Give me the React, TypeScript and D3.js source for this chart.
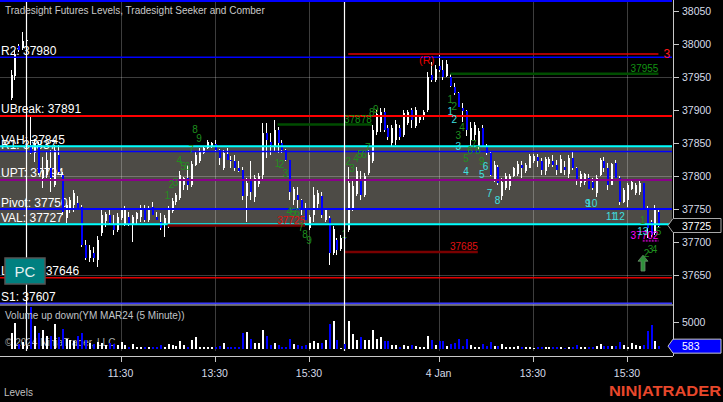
import React from 'react';
import * as d3 from 'd3';

// ---------- DATA ----------
// 5-minute bars, YM MAR24. Index 0-4: end of previous session, 5-85: 3 Jan, 86-165: 4 Jan
const barOpen = [
  37918, 37952, 37997, 37994, 38004,
  37847, 37835, 37847, 37797, 37802, 37812, 37786, 37832, 37802, 37736,
  37748, 37756, 37759, 37753, 37695, 37676, 37683, 37673, 37714, 37732,
  37741, 37726, 37718, 37736, 37728, 37738, 37726, 37735, 37738, 37750,
  37733, 37753, 37738, 37731, 37726, 37724, 37747, 37760, 37767, 37786,
  37797, 37786, 37817, 37822, 37835, 37843, 37845, 37849, 37840, 37812,
  37834, 37825, 37822, 37812, 37809, 37770, 37794, 37768, 37788, 37802,
  37865, 37852, 37845, 37870, 37850, 37840, 37824, 37764, 37771, 37764,
  37751, 37721, 37741, 37758, 37769, 37733, 37736, 37683, 37703, 37690,
  37706,
  37718, 37752, 37773, 37794, 37771, 37805, 37822, 37866, 37880, 37897,
  37872, 37850, 37855, 37873, 37862, 37880, 37900, 37876, 37885, 37889,
  37900, 37953, 37945, 37967, 37961, 37952, 37950, 37935, 37926, 37903,
  37898, 37855, 37862, 37845, 37872, 37845, 37835, 37795, 37814, 37770,
  37782, 37785, 37800, 37803, 37817, 37808, 37812, 37822, 37829, 37822,
  37808, 37818, 37822, 37817, 37805, 37814, 37803, 37827, 37812, 37789,
  37791, 37797, 37791, 37774, 37802, 37822, 37812, 37786, 37820, 37797,
  37761, 37764, 37781, 37775, 37776, 37789, 37752, 37730, 37714, 37745,
];
const barHigh = [
  37961, 37991, 38000, 38018, 38009,
  37892, 37855, 37852, 37829, 37836, 37839, 37847, 37847, 37806, 37759,
  37768, 37779, 37770, 37756, 37703, 37695, 37692, 37709, 37748, 37745,
  37748, 37741, 37744, 37751, 37754, 37745, 37741, 37746, 37756, 37756,
  37754, 37761, 37746, 37744, 37741, 37754, 37766, 37774, 37807, 37799,
  37817, 37822, 37836, 37842, 37844, 37855, 37852, 37855, 37841, 37840,
  37842, 37830, 37832, 37822, 37813, 37797, 37822, 37802, 37805, 37880,
  37880, 37865, 37885, 37875, 37855, 37841, 37825, 37784, 37784, 37765,
  37759, 37741, 37784, 37779, 37776, 37751, 37740, 37724, 37706, 37711,
  37712,
  37814, 37794, 37814, 37808, 37805, 37839, 37877, 37900, 37903, 37903,
  37877, 37877, 37885, 37877, 37900, 37900, 37903, 37905, 37893, 37900,
  37958, 37973, 37968, 37983, 37976, 37976, 37955, 37941, 37928, 37911,
  37900, 37882, 37882, 37873, 37877, 37848, 37837, 37822, 37817, 37797,
  37805, 37803, 37814, 37822, 37822, 37819, 37834, 37834, 37834, 37827,
  37829, 37829, 37832, 37824, 37832, 37822, 37832, 37837, 37814, 37807,
  37805, 37803, 37797, 37802, 37827, 37829, 37820, 37820, 37824, 37800,
  37782, 37790, 37794, 37790, 37794, 37790, 37754, 37733, 37756, 37748,
];
const barLow = [
  37915, 37945, 37988, 37991, 37997,
  37833, 37821, 37802, 37782, 37797, 37776, 37783, 37802, 37741, 37729,
  37744, 37745, 37748, 37692, 37673, 37670, 37670, 37662, 37709, 37723,
  37727, 37711, 37715, 37733, 37724, 37724, 37700, 37726, 37731, 37731,
  37730, 37741, 37733, 37718, 37708, 37721, 37744, 37756, 37764, 37779,
  37779, 37783, 37815, 37820, 37833, 37841, 37842, 37838, 37817, 37809,
  37824, 37812, 37807, 37806, 37764, 37731, 37764, 37761, 37784, 37794,
  37827, 37832, 37837, 37835, 37835, 37822, 37764, 37756, 37749, 37741,
  37733, 37718, 37731, 37750, 37736, 37730, 37665, 37680, 37680, 37686,
  37698,
  37715, 37747, 37770, 37764, 37768, 37802, 37820, 37862, 37866, 37866,
  37855, 37844, 37847, 37855, 37859, 37877, 37873, 37873, 37880, 37885,
  37897, 37943, 37943, 37958, 37945, 37950, 37935, 37923, 37905, 37882,
  37860, 37844, 37855, 37840, 37844, 37832, 37800, 37791, 37786, 37764,
  37779, 37779, 37799, 37800, 37797, 37805, 37812, 37820, 37814, 37802,
  37802, 37814, 37814, 37802, 37804, 37802, 37797, 37809, 37786, 37783,
  37786, 37780, 37779, 37768, 37800, 37806, 37779, 37786, 37797, 37756,
  37759, 37753, 37779, 37771, 37771, 37750, 37706, 37708, 37711, 37722,
];
const barClose = [
  37953, 37983, 37991, 38004, 38006,
  37835, 37850, 37805, 37809, 37824, 37797, 37839, 37806, 37745, 37756,
  37764, 37774, 37751, 37695, 37676, 37688, 37676, 37703, 37741, 37742,
  37729, 37718, 37738, 37748, 37750, 37726, 37738, 37744, 37752, 37733,
  37750, 37741, 37733, 37721, 37736, 37750, 37762, 37771, 37802, 37797,
  37786, 37818, 37832, 37838, 37842, 37852, 37850, 37840, 37827, 37835,
  37824, 37822, 37812, 37808, 37769, 37790, 37776, 37797, 37800, 37865,
  37855, 37847, 37870, 37850, 37840, 37824, 37776, 37781, 37764, 37751,
  37733, 37738, 37771, 37775, 37741, 37748, 37683, 37720, 37688, 37706,
  37705,
  37790, 37785, 37808, 37771, 37800, 37832, 37870, 37894, 37897, 37870,
  37859, 37872, 37879, 37859, 37895, 37897, 37885, 37900, 37890, 37897,
  37950, 37945, 37962, 37961, 37950, 37970, 37936, 37926, 37905, 37898,
  37870, 37873, 37877, 37868, 37845, 37835, 37802, 37817, 37789, 37791,
  37800, 37800, 37812, 37818, 37812, 37817, 37830, 37831, 37822, 37809,
  37826, 37826, 37817, 37809, 37826, 37809, 37827, 37812, 37794, 37803,
  37803, 37781, 37782, 37797, 37824, 37812, 37786, 37818, 37797, 37760,
  37779, 37786, 37791, 37786, 37790, 37752, 37721, 37711, 37750, 37725,
];
const barVolume = [
  3000, 4800, 900, 1400, 700,
  7900, 4300, 3100, 3600, 2500, 2500, 4600, 2200, 3800, 1900,
  1800, 1500, 2400, 3000, 1800, 1100, 1000, 1400, 1100, 800,
  1100, 900, 800, 1300, 800, 500, 1000, 500, 500, 400,
  400, 500, 500, 750, 500, 950, 800, 600, 1450, 800,
  500, 1750, 2200, 400, 500, 500, 500, 500, 600, 1100,
  500, 400, 400, 400, 3000, 3150, 1950, 1250, 1250, 3500,
  2400, 800, 1250, 800, 500, 500, 1950, 1000, 800, 600,
  750, 1100, 1450, 1250, 1250, 1750, 4650, 5200, 1650, 200,
  900,
  5200, 2900, 1650, 2250, 1650, 1650, 3500, 1950, 2300, 1450,
  1450, 800, 800, 400, 750, 600, 750, 600, 500, 500,
  2400, 1750, 800, 1450, 1500, 600, 1000, 1100, 1900, 600,
  1900, 750, 500, 500, 1000, 600, 1300, 600, 600, 1000,
  500, 500, 500, 600, 400, 400, 500, 300, 400, 500,
  400, 400, 400, 400, 400, 200, 500, 400, 750, 400,
  400, 400, 400, 600, 950, 600, 600, 600, 600, 1400,
  800, 500, 1250, 800, 600, 800, 3400, 4550, 1550, 583,
];

const timeTickBars = [28, 52, 76, 109, 133, 157];
const timeTickLabels = ['11:30', '13:30', '15:30', '4 Jan', '13:30', '15:30'];
const sessionEndBars = [4, 85];

const priceTicks = [38050, 38000, 37950, 37900, 37850, 37800, 37750, 37700, 37650];
const priceGrid = [37950, 37800, 37650];
const volumeTicks = [5000];

const levelNames = ['R2', 'UBreak', 'VAH', 'R1', 'UPT', 'Pivot', 'VAL', 'LBreak', 'S1'];
const levelValues = [37980, 37891, 37845, 37837, 37794, 37750, 37727, 37646, 37607];
const valueAreaHigh = 37845;
const valueAreaLow = 37727;

// Seeker / Comber target rays
const rayStartBar = [86, 112, 68, 40, 85, 161];
const rayEndBar = [165, 165, 92, 75, 119, 165];
const rayPrice = [37985, 37955, 37878, 37725, 37685, 37702];
const rayLabels = ['3', '37955', '37878', '37725', '37685', '37702'];

// Count numbers
const seekerBars = [
  40, 41, 42, 43, 44, 45, 46, 47, 48,
  68, 69, 70, 71, 72, 73, 74, 75, 76,
  85, 86, 87, 88, 89, 90, 91, 92, 93,
  112, 113, 114, 115, 116, 117, 118, 119, 120,
  161, 162, 163, 164, 165,
];
const seekerPrices = [
  37770, 37787, 37790, 37824, 37815, 37815, 37840, 37871, 37857,
  37819, 37817, 37804, 37746, 37744, 37744, 37722, 37711, 37702,
  37711, 37822, 37812, 37827, 37832, 37832, 37843, 37896, 37901,
  37916, 37905, 37862, 37874, 37826, 37839, 37848, 37839, 37822,
  37732, 37683, 37688, 37688, 37716,
];
const seekerText = [
  '1', '2', '3', '4', '5', '6', '7', '8', '9',
  '1', '2', '3', '4', '5', '6', '7', '8', '9',
  '1', '2', '3', '4', '5', '6', '7', '8', '9',
  '1', '2', '3', '4', '5', '6', '7', '8', '9',
  '1', '2', '3', '4', '5',
];
const comberBars = [112, 113, 114, 116, 120, 121, 122, 124, 147, 148, 153, 155, 161];
const comberPrices = [37897, 37886, 37844, 37807, 37803, 37814, 37774, 37763, 37759, 37759, 37738, 37738, 37716];
const comberText = ['1', '2', '3', '4', '5', '6', '7', '8', '9', '10', '11', '12', '13'];

const reversalBar = 106;
const reversalPrice = 37976;
const reversalText = '(R)';

const arrowBar = 161;
const arrowTopPrice = 37680;
const arrowBottomPrice = 37656;

// ---------- STYLES ----------
const FONT = "'Liberation Sans', Arial, Helvetica, sans-serif";
const levelStyle: Record<string, { color: string; width: number }> = {
  R2: { color: '#0000ff', width: 1.5 },
  UBreak: { color: '#ff0000', width: 2 },
  VAH: { color: '#00ffff', width: 2 },
  R1: { color: '#0000ff', width: 1.5 },
  UPT: { color: '#8b008b', width: 2 },
  Pivot: { color: '#0000ff', width: 2 },
  VAL: { color: '#00ffff', width: 2 },
  LBreak: { color: '#e00000', width: 1.5 },
  S1: { color: '#3a3aff', width: 2 },
};
const rayStyle = [
  { line: '#e00000', width: 1.5, text: '#ff1a1a', dash: '', size: 12, side: 'right' },
  { line: '#004d00', width: 2.5, text: '#129312', dash: '', size: 10, side: 'end' },
  { line: '#004d00', width: 2.5, text: '#129312', dash: '', size: 10, side: 'end' },
  { line: '#7a0000', width: 2.5, text: '#e01010', dash: '', size: 10, side: 'end' },
  { line: '#7a0000', width: 2.5, text: '#e01010', dash: '', size: 10, side: 'end' },
  { line: '#a000a0', width: 2, text: '#ff00ff', dash: '2,1', size: 10, side: 'end' },
];

export default function App() {
  const W = 723;
  const H = 402;
  const plotRight = 672;
  const axisX = 673;
  const priceTop = 2;
  const priceBottom = 304.5;
  const volTop = 305.5;
  const volBottom = 351;
  const axisY = 356;

  const x = d3.scaleLinear().domain([28, 157]).range([120.5, 627]);
  const y = d3.scaleLinear().domain([37650, 38050]).range([275, 11]);
  const yv = d3.scaleLinear().domain([0, 5000]).range([349.3, 322.3]);

  const grid = 'rgba(255,255,255,0.24)';
  const axisColor = '#c8c8c8';
  const labelColor = '#d6dce8';

  const lastClose = barClose[barClose.length - 1];
  const lastVol = barVolume[barVolume.length - 1];

  const marker = (yc: number) =>
    `M${axisX - 5},${yc} L${axisX},${yc - 7} L${W - 2},${yc - 7} L${W - 2},${yc + 7} L${axisX},${yc + 7} Z`;

  const ax = Math.round(x(arrowBar));
  const aTop = y(arrowTopPrice);
  const aBot = y(arrowBottomPrice);
  const arrowPath = `M${ax},${aTop} L${ax + 5},${aTop + 6} L${ax + 2},${aTop + 6} L${ax + 2},${aBot} L${ax - 2},${aBot} L${ax - 2},${aTop + 6} L${ax - 5},${aTop + 6} Z`;

  return (
    <svg
      width={W}
      height={H}
      style={{ position: 'fixed', left: 0, top: 0, display: 'block', background: '#000' }}
      fontFamily={FONT}
    >
      <defs>
        <clipPath id="pclip">
          <rect x={0} y={priceTop} width={plotRight} height={priceBottom - priceTop} />
        </clipPath>
        <clipPath id="vclip">
          <rect x={0} y={volTop} width={plotRight} height={volBottom - volTop} />
        </clipPath>
      </defs>
      <rect x={0} y={0} width={W} height={H} fill="#000" />

      {/* value area band */}
      <rect
        x={0}
        y={y(valueAreaHigh)}
        width={plotRight}
        height={y(valueAreaLow) - y(valueAreaHigh)}
        fill="#4d4b46"
      />

      {/* grid */}
      {priceGrid.map((p) => (
        <line key={'hg' + p} x1={0} x2={plotRight} y1={Math.round(y(p)) + 0.5} y2={Math.round(y(p)) + 0.5} stroke={grid} />
      ))}
      {timeTickBars.map((b, i) => (
        <line key={'vg' + i} x1={Math.round(x(b)) + 0.5} x2={Math.round(x(b)) + 0.5} y1={0} y2={volBottom} stroke={grid} />
      ))}

      {/* level labels (under bars) */}
      {levelNames.map((n, i) => (
        <text key={'ll' + n} x={1} y={y(levelValues[i]) - 2.5} fill="#ffffff" fontSize={12}>
          {`${n}: ${levelValues[i]}`}
        </text>
      ))}

      {/* panel texts under the bars */}
      <text x={5} y={346} fill="#a8a8a8" fontSize={10}>
        © 2024 NinjaTrader, LLC
      </text>

      {/* candles */}
      <g clipPath="url(#pclip)" shapeRendering="crispEdges">
        {barOpen.map((o, i) => {
          const c = barClose[i];
          const up = c >= o;
          const bx = Math.round(x(i));
          const top = y(Math.max(o, c));
          const bot = y(Math.min(o, c));
          return (
            <g key={'b' + i}>
              <line x1={bx + 0.5} x2={bx + 0.5} y1={y(barHigh[i])} y2={y(barLow[i])} stroke="#ffffff" strokeWidth={1} />
              <rect x={bx - 0.5} y={top} width={2} height={Math.max(1, bot - top)} fill={up ? '#ffffff' : '#0000ff'} />
            </g>
          );
        })}
      </g>

      {/* level lines */}
      <g clipPath="url(#pclip)">
        {levelNames.map((n, i) => (
          <line
            key={'lv' + n}
            x1={0}
            x2={plotRight}
            y1={y(levelValues[i])}
            y2={y(levelValues[i])}
            stroke={levelStyle[n].color}
            strokeWidth={levelStyle[n].width}
          />
        ))}
      </g>

      {/* rays */}
      <g clipPath="url(#pclip)">
        {rayPrice.map((p, i) => {
          const st = rayStyle[i];
          const yy = y(p);
          return (
            <g key={'r' + i}>
              <line
                x1={x(rayStartBar[i])}
                x2={x(rayEndBar[i])}
                y1={yy}
                y2={yy}
                stroke={st.line}
                strokeWidth={st.width}
                strokeDasharray={st.dash || undefined}
              />
              {st.side === 'right' ? (
                <text x={x(rayEndBar[i]) + 5} y={yy + 4.5} fill={st.text} fontSize={st.size}>
                  {rayLabels[i]}
                </text>
              ) : (
                <text x={x(rayEndBar[i])} y={yy - 2} fill={st.text} fontSize={st.size} textAnchor="end">
                  {rayLabels[i]}
                </text>
              )}
            </g>
          );
        })}
      </g>

      {/* counts */}
      <g clipPath="url(#pclip)" fontSize={10} textAnchor="middle">
        {seekerBars.map((b, i) => (
          <text key={'s' + i} x={x(b)} y={y(seekerPrices[i]) + 3.5} fill="#1f8f1f">
            {seekerText[i]}
          </text>
        ))}
        {comberBars.map((b, i) => (
          <text key={'c' + i} x={x(b)} y={y(comberPrices[i]) + 3.5} fill="#3fe0e0">
            {comberText[i]}
          </text>
        ))}
        <text x={x(reversalBar)} y={y(reversalPrice) + 4} fill="#e00000" fontSize={11}>
          {reversalText}
        </text>
      </g>

      {/* signal arrow */}
      <path d={arrowPath} fill="#2f8f3a" stroke="#6a8a6a" strokeWidth={0.8} />

      {/* session breaks */}
      {sessionEndBars.map((b) => (
        <line key={'sb' + b} x1={Math.round(x(b)) + 0.5} x2={Math.round(x(b)) + 0.5} y1={0} y2={volBottom} stroke="#ffffff" strokeWidth={1.2} />
      ))}

      {/* volume */}
      <g clipPath="url(#vclip)" shapeRendering="crispEdges">
        {barVolume.map((v, i) => {
          const up = barClose[i] >= barOpen[i];
          const bx = Math.round(x(i));
          return <rect key={'v' + i} x={bx - 0.5} y={yv(v)} width={2} height={yv(0) - yv(v)} fill={up ? '#ffffff' : '#0000ff'} />;
        })}
      </g>

      {/* frame */}
      <line x1={0} x2={plotRight} y1={1} y2={1} stroke="#0000ff" strokeWidth={2} />
      <line x1={0} x2={axisX} y1={priceBottom + 0.5} y2={priceBottom + 0.5} stroke={axisColor} strokeWidth={1} />
      <line x1={0} x2={axisX} y1={axisY + 0.5} y2={axisY + 0.5} stroke={axisColor} strokeWidth={1} />
      <line x1={axisX + 0.5} x2={axisX + 0.5} y1={0} y2={axisY} stroke={axisColor} strokeWidth={1} />

      {/* price axis */}
      {priceTicks.map((p) => (
        <g key={'pt' + p}>
          <line x1={axisX} x2={axisX + 6} y1={Math.round(y(p)) + 0.5} y2={Math.round(y(p)) + 0.5} stroke={axisColor} />
          <text x={682} y={y(p) + 4} fill={labelColor} fontSize={10.5}>
            {p}
          </text>
        </g>
      ))}
      {volumeTicks.map((v) => (
        <g key={'vt' + v}>
          <line x1={axisX} x2={axisX + 6} y1={Math.round(yv(v)) + 0.5} y2={Math.round(yv(v)) + 0.5} stroke={axisColor} />
          <text x={682} y={yv(v) + 4} fill={labelColor} fontSize={10.5}>
            {v}
          </text>
        </g>
      ))}

      {/* time axis */}
      {timeTickBars.map((b, i) => (
        <g key={'tt' + i}>
          <line x1={Math.round(x(b)) + 0.5} x2={Math.round(x(b)) + 0.5} y1={axisY} y2={axisY + 6} stroke={axisColor} />
          <text x={x(b)} y={377} fill={labelColor} fontSize={10.5} textAnchor="middle">
            {timeTickLabels[i]}
          </text>
        </g>
      ))}

      {/* last price markers */}
      <path d={marker(y(lastClose))} fill="#000" stroke="#a8a8a8" strokeWidth={1} />
      <text x={682} y={y(lastClose) + 4} fill="#ffffff" fontSize={10.5}>
        {lastClose}
      </text>
      <path d={marker(yv(lastVol))} fill="#0000ff" stroke="#c8c8c8" strokeWidth={1} />
      <text x={682} y={yv(lastVol) + 4} fill="#ffffff" fontSize={10.5}>
        {lastVol}
      </text>

      {/* texts */}
      <text x={5} y={14} fill="#c8c8c8" fontSize={10}>
        Tradesight Futures Levels, Tradesight Seeker and Comber
      </text>
      <text x={5} y={319} fill="#c0c4c8" fontSize={10}>
        Volume up down(YM MAR24 (5 Minute))
      </text>
      <text x={4} y={396} fill="#c0c0c0" fontSize={10}>
        Levels
      </text>

      {/* PC box */}
      <rect x={5} y={258} width={40} height={26} fill="#008080" stroke="#555" strokeWidth={1.5} />
      <text x={25} y={276.5} fill="#e6f2f2" fontSize={15} textAnchor="middle">
        PC
      </text>

      {/* logo */}
      <text x={609} y={396} fill="#e8472b" fontSize={15} fontWeight="bold" textLength={112} lengthAdjust="spacingAndGlyphs">
        NIN|ATRADER
      </text>
    </svg>
  );
}
